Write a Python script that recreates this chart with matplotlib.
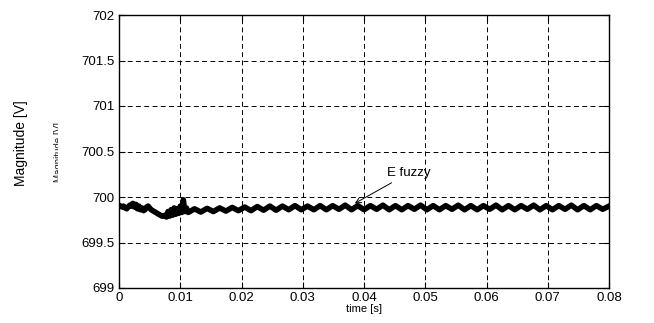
import matplotlib
matplotlib.use("Agg")
import matplotlib.pyplot as plt
from matplotlib.patches import Rectangle
import numpy as np

# ---------------------------------------------------------------------------
# data
# ---------------------------------------------------------------------------

# start-up transient, sampled every 0.25 ms from 0 to 11 ms
transient_values = [
    699.91, 699.90, 699.89, 699.90, 699.88, 699.87, 699.89, 699.91, 699.90, 699.93,
    699.89, 699.92, 699.87, 699.90, 699.86, 699.88, 699.85, 699.86, 699.89, 699.90,
    699.88, 699.86, 699.85, 699.84, 699.83, 699.82, 699.81, 699.80, 699.79, 699.79,
    699.80, 699.78, 699.84, 699.79, 699.86, 699.80, 699.88, 699.81, 699.87, 699.82,
    699.90, 699.83, 699.97, 699.84, 699.88,
]
transient_start, transient_end = 0.0, 0.011

# ripple after the transient, spike / dip for each tooth (~2 ms period)
ripple_values = [
    699.83, 699.87, 699.835, 699.875, 699.84, 699.88, 699.845, 699.885, 699.85, 699.89,
    699.85, 699.895, 699.855, 699.90, 699.855, 699.90, 699.86, 699.905, 699.86, 699.90,
    699.86, 699.905, 699.86, 699.905, 699.865, 699.91, 699.86, 699.905, 699.86, 699.905,
    699.865, 699.91, 699.86, 699.905, 699.86, 699.905, 699.865, 699.91, 699.86, 699.905,
    699.86, 699.905, 699.865, 699.91, 699.86, 699.905, 699.86, 699.905, 699.865, 699.91,
    699.86, 699.905, 699.86, 699.905, 699.865, 699.91, 699.86, 699.905, 699.86, 699.905,
    699.865, 699.91, 699.86, 699.905, 699.86, 699.905, 699.865, 699.90,
]
ripple_start, ripple_end = 0.0113, 0.08

x_ticks = [0, 0.01, 0.02, 0.03, 0.04, 0.05, 0.06, 0.07, 0.08]
x_tick_labels = ["0", "0.01", "0.02", "0.03", "0.04", "0.05", "0.06", "0.07", "0.08"]
y_ticks = [699, 699.5, 700, 700.5, 701, 701.5, 702]
y_tick_labels = ["699", "699.5", "700", "700.5", "701", "701.5", "702"]

annotation_text = "E fuzzy"
annotation_point = (0.0385, 699.93)
annotation_text_pos = (0.0437, 700.26)

# ---------------------------------------------------------------------------
# figure
# ---------------------------------------------------------------------------

plt.rcParams["font.family"] = ["Liberation Sans", "DejaVu Sans"]

fig = plt.figure(figsize=(6.54, 3.23), dpi=100)
ax = fig.add_axes([119 / 654, 1 - 288 / 323, 490 / 654, 273 / 323])

t = np.concatenate([
    np.linspace(transient_start, transient_end, len(transient_values)),
    np.linspace(ripple_start, ripple_end, len(ripple_values)),
])
v = np.array(transient_values + ripple_values)
ax.plot(t, v, color="black", linewidth=4.0, solid_joinstyle="round")

ax.set_xlim(0, 0.08)
ax.set_ylim(699, 702)
ax.set_xticks(x_ticks)
ax.set_xticklabels(x_tick_labels)
ax.set_yticks(y_ticks)
ax.set_yticklabels(y_tick_labels)
ax.tick_params(direction="in", length=4, width=0.8, labelsize=9.5, pad=3,
               top=True, right=True)

ax.grid(True, color="black", linestyle=(0, (5, 3.5)), linewidth=0.7)
for spine in ax.spines.values():
    spine.set_linewidth(1.0)

ax.set_xlabel("time [s]", fontsize=8, labelpad=0)
fig.text(21 / 654, 1 - 143 / 323, "Magnitude [V]", rotation=90,
         ha="center", va="center", fontsize=10)

# half-hidden ghost label left of the axis
fig.text(59 / 654, 1 - 152 / 323, "Magnitude [V]", rotation=90,
         ha="center", va="center", fontsize=7, color="#222222", zorder=1)
fig.add_artist(Rectangle((58 / 654, 1 - 195 / 323), 9 / 654, 95 / 323,
                         transform=fig.transFigure, facecolor="white",
                         edgecolor="none", zorder=5))

ax.annotate(annotation_text, xy=annotation_point, xytext=annotation_text_pos,
            fontsize=9.5, ha="left", va="center",
            arrowprops=dict(arrowstyle="->", color="black", lw=0.7,
                            shrinkA=1, shrinkB=0))

fig.savefig("out.png", dpi=100)
